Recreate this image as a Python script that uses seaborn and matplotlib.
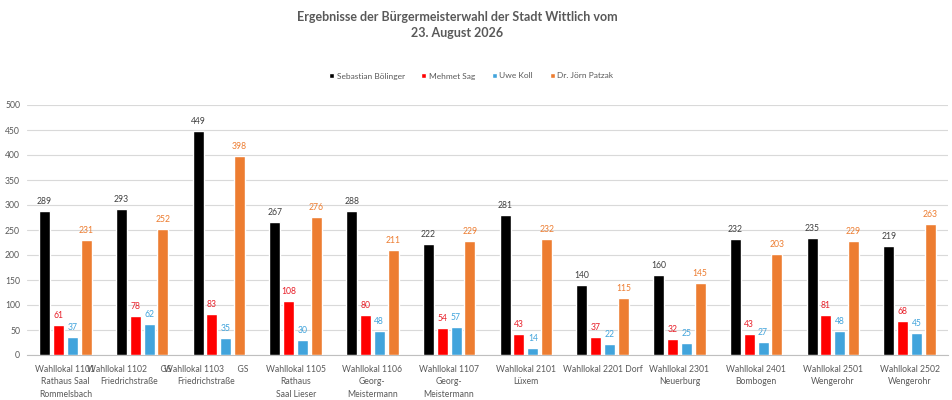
import pandas as pd
import seaborn as sns
import matplotlib.pyplot as plt
from matplotlib.transforms import ScaledTranslation

# Wahllokale (x-axis categories)
lokale = [
    "Wahllokal 1101\nRathaus Saal\nRommelsbach",
    "Wahllokal 1102      GS\nFriedrichstraße",
    "Wahllokal 1103      GS\nFriedrichstraße",
    "Wahllokal 1105\nRathaus\nSaal Lieser",
    "Wahllokal 1106\nGeorg-\nMeistermann",
    "Wahllokal 1107\nGeorg-\nMeistermann",
    "Wahllokal 2101\nLüxem",
    "Wahllokal 2201 Dorf",
    "Wahllokal 2301\nNeuerburg",
    "Wahllokal 2401\nBombogen",
    "Wahllokal 2501\nWengerohr",
    "Wahllokal 2502\nWengerohr",
]

# votes per candidate
boelinger = [289, 293, 449, 267, 288, 222, 281, 140, 160, 232, 235, 219]
sag = [61, 78, 83, 108, 80, 54, 43, 37, 32, 43, 81, 68]
koll = [37, 62, 35, 30, 48, 57, 14, 22, 25, 27, 48, 45]
patzak = [231, 252, 398, 276, 211, 229, 232, 115, 145, 203, 229, 263]

kandidaten = ["Sebastian Bölinger", "Mehmet Sag", "Uwe Koll", "Dr. Jörn Patzak"]
farben = ["#000000", "#FF0000", "#41A4DC", "#ED7D31"]
label_farben = ["#404040", "#E8202A", "#41A4DC", "#ED7D31"]

rows = []
for name, werte in zip(kandidaten, [boelinger, sag, koll, patzak]):
    for lokal, w in zip(lokale, werte):
        rows.append({"Wahllokal": lokal, "Kandidat": name, "Stimmen": w})
df = pd.DataFrame(rows)

sns.set_style("white")
plt.rcParams["font.family"] = ["Lato", "DejaVu Sans"]

fig = plt.figure(figsize=(9.52, 4.0), dpi=100)
ax = fig.add_axes([27 / 952, 1 - 355 / 400, (948 - 27) / 952, 250 / 400])

sns.barplot(data=df, x="Wahllokal", y="Stimmen", hue="Kandidat",
            hue_order=kandidaten, palette=farben, width=0.72, gap=0.2,
            saturation=1, errorbar=None, ax=ax, zorder=3)

for cont, c in zip(ax.containers, label_farben):
    ax.bar_label(cont, padding=3.5, fontsize=6.2, color=c)

ax.set_ylim(0, 500)
ax.set_yticks(range(0, 501, 50))
ax.set_xlim(-0.5, len(lokale) - 0.5)
ax.yaxis.grid(True, color="#D9D9D9", linewidth=0.8, zorder=0)
ax.set_axisbelow(True)
for s in ["top", "right", "left"]:
    ax.spines[s].set_visible(False)
ax.spines["bottom"].set_color("#BFBFBF")
ax.spines["bottom"].set_linewidth(0.8)
ax.tick_params(axis="both", length=0, labelsize=6.2, labelcolor="#595959")
ax.tick_params(axis="x", pad=7)
ax.tick_params(axis="y", pad=5)
ax.set_xlabel("")
ax.set_ylabel("")
for i, lbl in enumerate(ax.get_xticklabels()):
    lbl.set_linespacing(1.5)
    if i in (1, 2):
        # Excel shifts these two wrapped labels a bit to the left
        lbl.set_transform(lbl.get_transform() +
                          ScaledTranslation(-13 / 100, 0, fig.dpi_scale_trans))

sns.move_legend(ax, "center", bbox_to_anchor=(471 / 952, 1 - 76 / 400),
                bbox_transform=fig.transFigure, ncol=4, frameon=False,
                title=None, fontsize=6, handlelength=0.6, handleheight=0.6,
                handletextpad=0.3, columnspacing=2.0, labelcolor="#595959")

fig.text(457 / 952, 1 - 11 / 400,
         "Ergebnisse der Bürgermeisterwahl der Stadt Wittlich vom\n23. August 2026",
         ha="center", va="top", fontsize=9, fontweight="bold",
         color="#595959", linespacing=1.4)

fig.savefig("out.png", dpi=100)
